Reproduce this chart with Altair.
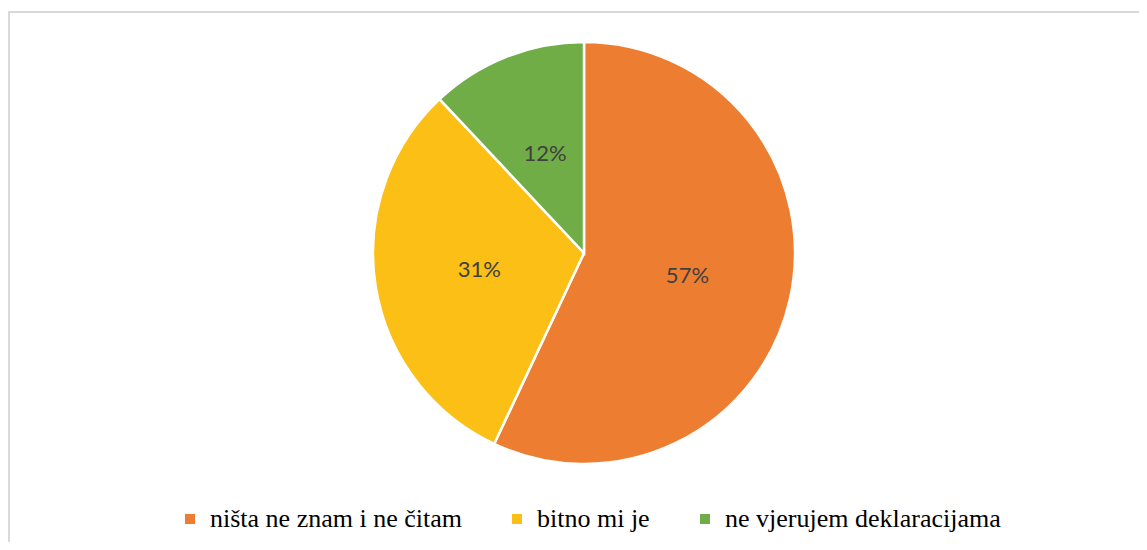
import altair as alt
import pandas as pd

categories = ["ništa ne znam i ne čitam", "bitno mi je", "ne vjerujem deklaracijama"]
values = [57, 31, 12]
labels = ["57%", "31%", "12%"]
colors = ["#ED7D31", "#FBBF15", "#70AD47"]

df = pd.DataFrame({
    "cat": categories,
    "value": values,
    "label": labels,
    "idx": list(range(len(categories))),
})

CX, CY = 576, 245
SERIF = "'Liberation Serif', 'DejaVu Serif', 'Times New Roman', serif"

border = alt.Chart(pd.DataFrame({"a": [0]})).mark_rect(
    fill=None, stroke="#d9d9d9", strokeWidth=2
).encode(
    x=alt.value(1), x2=alt.value(1300), y=alt.value(4), y2=alt.value(800)
)

base = alt.Chart(df)

pie = base.mark_arc(radius=211, stroke="white", strokeWidth=2.5).encode(
    theta=alt.Theta("value:Q", stack=True),
    color=alt.Color(
        "cat:N",
        scale=alt.Scale(domain=categories, range=colors),
        sort=categories,
        legend=alt.Legend(
            title=None,
            orient="none",
            direction="horizontal",
            legendX=169,
            legendY=498,
            labelFont=SERIF,
            labelFontSize=26,
            labelColor="#000000",
            symbolType="square",
            symbolSize=100,
            symbolStrokeWidth=0,
            labelOffset=7,
            columnPadding=42,
            padding=0,
            labelLimit=500,
        ),
    ),
    order=alt.Order("idx:Q"),
    x=alt.value(CX),
    y=alt.value(CY),
)

text = base.mark_text(
    radius=106, font="Lato", fontSize=22, color="#404040", baseline="middle", align="center"
).encode(
    theta=alt.Theta("value:Q", stack=True),
    text="label:N",
    order=alt.Order("idx:Q"),
    x=alt.value(CX),
    y=alt.value(CY),
)

chart = alt.layer(border, pie, text).properties(
    width=1131, height=534, autosize=alt.AutoSizeParams(type="none"), padding=0
).configure_view(stroke=None)

chart.save("out.html", embed_options={"renderer": "svg", "actions": False})
